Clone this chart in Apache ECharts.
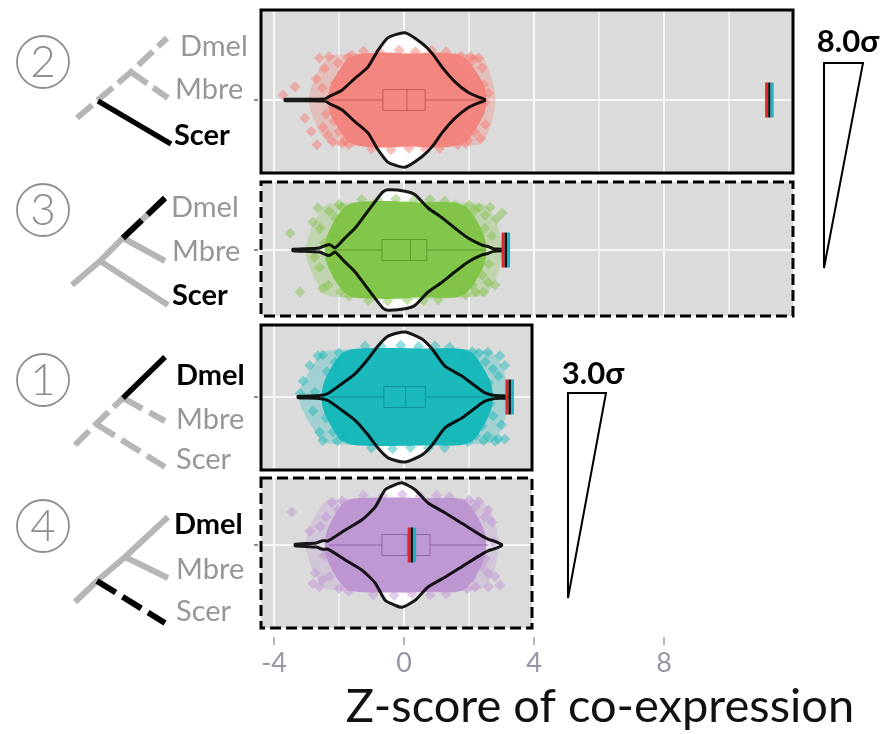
<!DOCTYPE html>
<html>
<head>
<meta charset="utf-8">
<script src="https://cdn.jsdelivr.net/npm/echarts@6/dist/echarts.min.js"></script>
<style>
  html, body { margin: 0; padding: 0; background: #fff; }
  #chart { width: 885px; height: 734px; }
</style>
</head>
<body>
<div id="chart"></div>
<script>
// ---- Z-score axis ----
const axisTicks = [-4, 0, 4, 8];
const gridValues = [-4, -2, 0, 2, 4, 6, 8, 10];
const axisTitle = 'Z-score of co-expression';

// ---- Panel 2 (Scer branch) ----
const violin2X = [-3.66, -2.43, -2.3, -1.91, -1.51, -1.11, -0.80, -0.49, 0.03, 0.55, 0.86, 1.17, 1.57, 1.97, 2.3, 2.48];
const violin2W = [0.01, 0.015, 0.05, 0.14, 0.31, 0.47, 0.71, 0.89, 0.96, 0.81, 0.67, 0.47, 0.26, 0.11, 0.04, 0.01];
const cloud2X = [-2.3, -2.0, -1.7, -1.3, -0.6, 0.2, 0.9, 1.5, 1.9, 2.2, 2.5];
const cloud2W = [0.15, 0.42, 0.6, 0.66, 0.68, 0.66, 0.68, 0.66, 0.6, 0.42, 0.15];
const halo2X = [-2.9, -2.6, -2.2, 2.3, 2.6, 2.8];
const halo2W = [0.1, 0.45, 0.64, 0.64, 0.45, 0.1];
const points2 = [[-3.72,0.07],[-3.35,0.19],[-3.05,-0.26],[-2.68,-0.64],[-2.49,-0.39],[-2.34,-0.5],[-2.03,0.53],[-1.88,0.4],[-2.12,0.24],[-2.52,0.17],[-2.06,-0.14],[-1.82,-0.57],[-1.72,0.61],
  [-2.6,0.6],[-2.45,0.45],[-2.3,0.62],[-2.2,-0.6],[-2.0,-0.45],[-2.4,-0.2],[-2.25,0.05],[-1.95,0.1],[-2.15,-0.3],[-1.9,-0.62],[-2.7,0.3],[-2.85,-0.45],[-1.7,-0.64],[-1.6,0.64],
  [2.12,0.57],[1.97,0.4],[2.4,0.46],[1.57,0.6],[1.48,0.53],[2.18,-0.46],[1.97,-0.57],[1.66,-0.64],[1.35,-0.47],[2.49,-0.04],[1.82,0.24],[1.78,-0.29],
  [2.3,0.6],[2.05,0.62],[2.45,0.22],[2.3,-0.15],[2.05,-0.3],[2.35,-0.55],[2.5,-0.35],[1.9,-0.62],[2.2,0.15],[1.75,0.63],[2.6,0.1],[1.65,-0.5],
  [-1.25,0.7],[-0.75,0.69],[-0.15,0.71],[0.35,0.69],[0.85,0.71],[1.3,0.69],[-1.0,-0.7],[-0.4,-0.71],[0.15,-0.69],[0.65,-0.7],[1.1,-0.69]];
const box2 = [-2.43, -0.65, 0.09, 0.65, 2.45];
const observed2 = 11.25;

// ---- Panel 3 (Dmel + Mbre ancestor) ----
const violin3X = [-3.42, -2.6, -2.3, -2.12, -1.82, -1.51, -1.2, -0.89, -0.65, -0.49, 0.03, 0.34, 0.74, 1.17, 1.57, 1.97, 2.4, 2.58, 2.75, 3.0];
const violin3W = [0.01, 0.03, 0.08, 0.03, 0.17, 0.31, 0.5, 0.69, 0.83, 0.86, 0.84, 0.79, 0.6, 0.46, 0.31, 0.17, 0.07, 0.05, 0.02, 0.01];
const cloud3X = [-2.4, -2.1, -1.8, -1.5, -0.5, 0.4, 1.5, 1.9, 2.2, 2.5];
const cloud3W = [0.15, 0.45, 0.62, 0.68, 0.7, 0.68, 0.68, 0.62, 0.45, 0.15];
const halo3X = [-3.0, -2.7, -2.3, 2.4, 2.8, 3.0];
const halo3W = [0.1, 0.45, 0.66, 0.66, 0.45, 0.1];
const points3 = [[-3.5,0.24],[-3.2,-0.6],[-2.65,0.6],[-2.58,0.31],[-2.12,0.46],[-2.03,-0.36],[-2.34,-0.5],[-1.82,-0.21],[-1.91,0.61],
  [-2.8,0.4],[-2.5,-0.55],[-2.3,0.55],[-2.2,0.2],[-2.6,-0.25],[-2.45,0.1],[-2.0,0.65],[-1.95,-0.6],[-2.75,-0.1],[-2.2,-0.2],[-1.7,-0.66],
  [3.02,0.53],[2.65,0.61],[2.49,0.31],[2.18,0.57],[2.58,-0.46],[2.4,-0.36],[2.09,-0.5],[1.97,0.4],[1.78,-0.6],[1.57,0.64],[1.26,-0.61],
  [2.3,0.6],[2.5,0.5],[2.7,0.2],[2.6,-0.2],[2.3,0.15],[2.2,-0.6],[2.45,-0.6],[2.8,-0.5],[1.9,-0.64],[2.0,0.64],[2.85,0.45],
  [-1.3,0.72],[-0.8,0.71],[-0.25,0.73],[0.3,0.71],[0.8,0.72],[1.25,0.7],[-1.1,-0.72],[-0.5,-0.73],[0.1,-0.71],[0.6,-0.72],[1.05,-0.71]];
const box3 = [-2.2, -0.68, 0.2, 0.7, 2.5];
const observed3 = 3.14;

// ---- Panel 1 (Dmel branch) ----
const violin1X = [-3.26, -2.6, -2.34, -1.91, -1.51, -1.11, -0.8, -0.49, 0.03, 0.55, 0.86, 1.26, 1.78, 2.18, 2.49, 2.8, 3.17];
const violin1W = [0.01, 0.02, 0.05, 0.19, 0.33, 0.54, 0.73, 0.87, 0.93, 0.83, 0.69, 0.44, 0.3, 0.16, 0.06, 0.02, 0.015];
const cloud1X = [-2.5, -2.2, -1.9, -1.5, -0.4, 0.6, 1.7, 2.1, 2.4, 2.7];
const cloud1W = [0.15, 0.45, 0.63, 0.69, 0.7, 0.69, 0.69, 0.63, 0.45, 0.15];
const halo1X = [-3.2, -2.8, -2.4, 2.6, 3.0, 3.2];
const halo1W = [0.1, 0.45, 0.66, 0.66, 0.45, 0.1];
const points1 = [[-3.1,0.23],[-2.65,0.59],[-2.37,0.36],[-2.74,0.07],[-2.18,-0.5],[-1.88,-0.57],[-2.12,0.5],
  [-2.9,0.45],[-2.5,0.6],[-2.4,-0.3],[-2.6,-0.5],[-2.3,0.15],[-2.0,0.63],[-2.05,-0.63],[-2.8,-0.2],[-3.2,0.05],[-2.5,-0.62],
  [2.95,0.59],[2.58,0.64],[2.74,0.4],[2.18,0.47],[2.74,-0.27],[2.58,-0.56],[3.1,-0.6],[2.8,-0.63],[2.4,-0.41],[1.78,0.59],[1.97,-0.64],
  [2.5,0.5],[2.9,0.3],[2.6,0.2],[3.0,-0.4],[2.9,-0.6],[2.45,-0.62],[2.3,0.63],[2.65,-0.1],[2.2,-0.55],[3.1,0.45],[2.1,0.65],
  [-1.2,0.73],[-0.7,0.72],[-0.1,0.74],[0.45,0.72],[0.95,0.73],[1.4,0.71],[-1.0,-0.73],[-0.35,-0.74],[0.2,-0.72],[0.75,-0.73],[1.25,-0.72]];
const box1 = [-2.3, -0.62, 0.05, 0.66, 2.5];
const observed1 = 3.26;

// ---- Panel 4 (Scer branch, Dmel-side) ----
const violin4X = [-3.35, -2.7, -2.5, -2.34, -1.82, -1.29, -0.89, -0.58, -0.28, -0.06, 0.34, 0.74, 1.26, 1.78, 2.4, 2.6, 2.75, 3.0];
const violin4W = [0.01, 0.03, 0.06, 0.06, 0.21, 0.36, 0.54, 0.79, 0.86, 0.89, 0.79, 0.6, 0.46, 0.31, 0.13, 0.08, 0.06, 0.01];
const cloud4X = [-2.4, -2.1, -1.8, -1.4, -0.3, 0.7, 1.6, 1.9, 2.2, 2.5];
const cloud4W = [0.15, 0.45, 0.62, 0.67, 0.68, 0.67, 0.67, 0.62, 0.45, 0.15];
const halo4X = [-3.0, -2.7, -2.3, 2.3, 2.7, 2.9];
const halo4W = [0.1, 0.45, 0.64, 0.64, 0.45, 0.1];
const points4 = [[-3.45,0.47],[-2.58,0.26],[-2.22,0.61],[-2.74,-0.4],[-2.52,-0.5],[-2.12,-0.26],[-1.82,-0.5],[-2.03,0.5],
  [-2.9,0.2],[-2.4,0.4],[-2.3,-0.45],[-2.6,-0.6],[-2.2,0.1],[-1.9,0.63],[-2.0,-0.62],[-2.8,-0.55],[-2.45,-0.15],[-1.7,-0.66],
  [2.49,0.4],[2.71,0.33],[2.18,0.54],[2.95,-0.57],[2.4,-0.31],[2.58,-0.4],[2.09,-0.46],[1.78,0.6],[1.57,-0.6],
  [2.3,0.62],[2.6,0.5],[2.8,-0.45],[2.2,-0.6],[2.5,-0.2],[2.3,0.2],[2.75,0.05],[1.95,-0.63],[2.0,0.64],[2.6,-0.6],
  [-1.25,0.71],[-0.65,0.7],[-0.05,0.72],[0.5,0.7],[1.0,0.71],[1.4,0.69],[-0.95,-0.71],[-0.3,-0.72],[0.25,-0.7],[0.8,-0.71],[1.3,-0.7]];
const box4 = [-2.3, -0.68, 0.1, 0.8, 2.6];
const observed4 = 0.25;

// ---- Annotation texts ----
const panelNumbers = ['2', '3', '1', '4'];
const speciesNames = ['Dmel', 'Mbre', 'Scer'];
const sigmaLabels = ['8.0σ', '3.0σ'];

// ---- Layout ----
const PANEL_LEFT = 261;
const X_AT_LEFT = -4.4;
const PX_PER_X = 32.5;
const PX_PER_Y = 70;
const GRAY = '#b6b6b6';
const TEXT_GRAY = '#979797';

const panels = [
  { num: panelNumbers[0], top: 10, bottom: 173, mid: 100, right: 793, dashed: false,
    color: '#F8766D', core: '#F3827B', edge: '#B04A44',
    vX: violin2X, vW: violin2W, cX: cloud2X, cW: cloud2W, hX: halo2X, hW: halo2W,
    points: points2, box: box2, observed: observed2 },
  { num: panelNumbers[1], top: 182, bottom: 316, mid: 250, right: 793, dashed: true,
    color: '#7CC242', core: '#7DC343', edge: '#4E8A22',
    vX: violin3X, vW: violin3W, cX: cloud3X, cW: cloud3W, hX: halo3X, hW: halo3W,
    points: points3, box: box3, observed: observed3 },
  { num: panelNumbers[2], top: 325, bottom: 470, mid: 397, right: 532, dashed: false,
    color: '#13B8BB', core: '#12B6B9', edge: '#0B7F82',
    vX: violin1X, vW: violin1W, cX: cloud1X, cW: cloud1W, hX: halo1X, hW: halo1W,
    points: points1, box: box1, observed: observed1 },
  { num: panelNumbers[3], top: 478, bottom: 628, mid: 545, right: 532, dashed: true,
    color: '#BC8ED4', core: '#BC94D1', edge: '#7E4E98',
    vX: violin4X, vW: violin4W, cX: cloud4X, cW: cloud4W, hX: halo4X, hW: halo4W,
    points: points4, box: box4, observed: observed4 }
];

// Phylogeny sketches beside each panel: trunk polylines and branches (pixel layout)
const trees = [
  { circle: [43, 62], labels: [[180, 47, 'g'], [175, 90, 'g'], [174, 136, 'b']],
    lines: [
      { pts: [[77,118],[98,100],[131,72],[167,38]], c: GRAY, w: 6, dash: [20, 7] },
      { pts: [[131,72],[168,98]], c: GRAY, w: 6, dash: [20, 7] },
      { pts: [[98,101],[171,144]], c: '#000', w: 5.5 }
    ] },
  { circle: [43, 210], labels: [[171, 208, 'g'], [172, 252, 'g'], [172, 296, 'b']],
    lines: [
      { pts: [[72,285],[100,261],[123,238],[165,198]], c: GRAY, w: 6 },
      { pts: [[100,261],[168,305]], c: GRAY, w: 6 },
      { pts: [[123,238],[165,261]], c: GRAY, w: 6 },
      { pts: [[123,238],[165,198]], c: '#000', w: 6, dash: [26, 8] }
    ] },
  { circle: [43, 380], labels: [[176, 376, 'b'], [176, 420, 'g'], [176, 460, 'g']],
    lines: [
      { pts: [[75,445],[96,424],[123,398]], c: GRAY, w: 6, dash: [20, 7] },
      { pts: [[96,424],[165,467]], c: GRAY, w: 6, dash: [22, 8] },
      { pts: [[123,398],[165,421]], c: GRAY, w: 6, dash: [22, 8] },
      { pts: [[123,398],[165,357]], c: '#000', w: 5.5 }
    ] },
  { circle: [43, 526], labels: [[174, 525, 'b'], [176, 570, 'g'], [176, 612, 'g']],
    lines: [
      { pts: [[75,602],[97,581],[125,557],[168,517]], c: GRAY, w: 6 },
      { pts: [[125,557],[168,578]], c: GRAY, w: 6 },
      { pts: [[97,581],[165,623]], c: '#000', w: 6, dash: [22, 8] }
    ] }
];

// Sigma wedges to the right of the panels
const wedges = [
  { text: sigmaLabels[0], textPos: [848, 42], pts: [[824,63],[863,63],[824,268]] },
  { text: sigmaLabels[1], textPos: [593, 374], pts: [[568,393],[606,393],[568,598]] }
];

// ---- Build chart option ----
const grids = [], xAxes = [], yAxes = [], series = [];

function bandPolygon(xs, ws, api) {
  const pts = [];
  for (let i = 0; i < xs.length; i++) pts.push(api.coord([xs[i], ws[i]]));
  for (let i = xs.length - 1; i >= 0; i--) pts.push(api.coord([xs[i], -ws[i]]));
  return pts;
}

panels.forEach((p, i) => {
  const xMin = X_AT_LEFT;
  const xMax = X_AT_LEFT + (p.right - PANEL_LEFT) / PX_PER_X;
  const yMax = (p.mid - p.top) / PX_PER_Y;
  const yMin = -(p.bottom - p.mid) / PX_PER_Y;

  grids.push({ left: PANEL_LEFT, top: p.top, width: p.right - PANEL_LEFT, height: p.bottom - p.top,
    show: true, backgroundColor: '#DBDBDB', borderWidth: 0 });
  xAxes.push({ gridIndex: i, type: 'value', min: xMin, max: xMax, show: false });
  yAxes.push({ gridIndex: i, type: 'value', min: yMin, max: yMax, show: false });

  const base = { type: 'custom', xAxisIndex: i, yAxisIndex: i, silent: true };

  // white vertical gridlines
  series.push(Object.assign({}, base, {
    z: 1,
    data: gridValues.filter(v => v > xMin && v < xMax).map(v => [v, 0]),
    renderItem: (params, api) => {
      const v = api.value(0);
      const a = api.coord([v, yMax]), b = api.coord([v, yMin]);
      const major = (v % 4 === 0);
      return { type: 'line', shape: { x1: a[0], y1: a[1], x2: b[0], y2: b[1] },
        style: { stroke: '#ffffff', lineWidth: major ? 1.6 : 1.1 } };
    }
  }));
  // horizontal centre line
  series.push(Object.assign({}, base, {
    z: 1, data: [[0, 0]],
    renderItem: (params, api) => {
      const a = api.coord([xMin, 0]), b = api.coord([xMax, 0]);
      return { type: 'line', shape: { x1: a[0], y1: a[1], x2: b[0], y2: b[1] },
        style: { stroke: '#ffffff', lineWidth: 1.6 } };
    }
  }));
  // y tick left of the panel
  series.push(Object.assign({}, base, {
    z: 9, clip: false, data: [[0, 0]],
    renderItem: (params, api) => {
      const a = api.coord([xMin, 0]);
      return { type: 'line', shape: { x1: a[0] - 7, y1: a[1], x2: a[0] - 3, y2: a[1] },
        style: { stroke: '#666', lineWidth: 1.5 } };
    }
  }));
  // violin body (white)
  series.push(Object.assign({}, base, {
    z: 2, data: [[0, 0]],
    renderItem: (params, api) => ({ type: 'polygon',
      shape: { points: bandPolygon(p.vX, p.vW, api), smooth: 0.2 },
      style: { fill: '#ffffff', stroke: 'none' } })
  }));
  // sparse outer jitter haze
  series.push(Object.assign({}, base, {
    z: 3, data: [[0, 0]],
    renderItem: (params, api) => ({ type: 'polygon',
      shape: { points: bandPolygon(p.hX, p.hW, api), smooth: 0.3 },
      style: { fill: p.color, opacity: 0.28 } })
  }));
  // individual jittered diamonds
  series.push({
    type: 'scatter', xAxisIndex: i, yAxisIndex: i, silent: true, z: 4,
    symbol: 'diamond', symbolSize: 11,
    itemStyle: { color: p.color, opacity: 0.45 },
    data: p.points
  });
  // dense jitter core
  series.push(Object.assign({}, base, {
    z: 5, data: [[0, 0]],
    renderItem: (params, api) => ({ type: 'polygon',
      shape: { points: bandPolygon(p.cX, p.cW, api), smooth: 0.3 },
      style: { fill: p.core, opacity: 0.95 } })
  }));
  // violin outline
  series.push(Object.assign({}, base, {
    z: 6, data: [[0, 0]],
    renderItem: (params, api) => ({ type: 'polygon',
      shape: { points: bandPolygon(p.vX, p.vW, api), smooth: 0.2 },
      style: { fill: 'none', stroke: '#000', lineWidth: 3, opacity: 0.9, lineJoin: 'round' } })
  }));
  // boxplot
  series.push(Object.assign({}, base, {
    z: 7, data: [[0, 0]],
    renderItem: (params, api) => {
      const [lo, q1, med, q3, hi] = p.box;
      const h = 0.15;
      const a = api.coord([q1, h]), b = api.coord([q3, -h]);
      const wl = api.coord([lo, 0]), wq1 = api.coord([q1, 0]), wq3 = api.coord([q3, 0]), wh = api.coord([hi, 0]);
      const mt = api.coord([med, h]), mb = api.coord([med, -h]);
      const st = { stroke: p.edge, lineWidth: 1, opacity: 0.7, fill: 'none' };
      return { type: 'group', children: [
        { type: 'line', shape: { x1: wl[0], y1: wl[1], x2: wq1[0], y2: wq1[1] }, style: st },
        { type: 'line', shape: { x1: wq3[0], y1: wq3[1], x2: wh[0], y2: wh[1] }, style: st },
        { type: 'rect', shape: { x: a[0], y: a[1], width: b[0] - a[0], height: b[1] - a[1] }, style: st },
        { type: 'line', shape: { x1: mt[0], y1: mt[1], x2: mb[0], y2: mb[1] }, style: st }
      ] };
    }
  }));
  // observed z-score marker
  series.push(Object.assign({}, base, {
    z: 8, data: [[p.observed, 0]],
    renderItem: (params, api) => {
      const t = api.coord([api.value(0), 0.25]), b = api.coord([api.value(0), -0.25]);
      const x = t[0], hgt = b[1] - t[1];
      return { type: 'group', children: [
        { type: 'rect', shape: { x: x - 4.5, y: t[1], width: 3, height: hgt }, style: { fill: '#E3262E' } },
        { type: 'rect', shape: { x: x - 1.5, y: t[1], width: 2.5, height: hgt }, style: { fill: '#151515' } },
        { type: 'rect', shape: { x: x + 1, y: t[1], width: 3, height: hgt }, style: { fill: '#19B2C6' } }
      ] };
    }
  }));
});

// shared bottom axis with tick labels
const AX = grids.length;
grids.push({ left: PANEL_LEFT + (axisTicks[0] - X_AT_LEFT) * PX_PER_X, top: 636,
  width: (axisTicks[axisTicks.length - 1] - axisTicks[0]) * PX_PER_X, height: 1 });
xAxes.push({ gridIndex: AX, type: 'value', position: 'bottom',
  min: axisTicks[0], max: axisTicks[axisTicks.length - 1], interval: 4,
  axisLine: { show: false }, splitLine: { show: false },
  axisTick: { show: true, length: 8, lineStyle: { color: '#9a9aa6', width: 1.5 } },
  axisLabel: { show: true, margin: 13, fontSize: 27, fontFamily: 'Lato', color: '#9a96a6' } });
yAxes.push({ gridIndex: AX, type: 'value', show: false, min: 0, max: 1 });

// ---- graphic decorations ----
const elements = [];
panels.forEach(p => {
  elements.push({ type: 'rect', z: 100, silent: true,
    shape: { x: PANEL_LEFT, y: p.top, width: p.right - PANEL_LEFT, height: p.bottom - p.top },
    style: { fill: 'none', stroke: '#000', lineWidth: 3, lineDash: p.dashed ? [11, 5] : null } });
});
trees.forEach((t, i) => {
  elements.push({ type: 'circle', silent: true, shape: { cx: t.circle[0], cy: t.circle[1], r: 26 },
    style: { fill: 'none', stroke: '#8e8e8e', lineWidth: 1.8 } });
  elements.push({ type: 'text', silent: true, x: t.circle[0], y: t.circle[1] + 1,
    style: { text: panels[i].num, font: '300 44px Lato', fill: '#8e8e8e', align: 'center', verticalAlign: 'middle' } });
  t.lines.forEach(l => {
    elements.push({ type: 'polyline', silent: true, shape: { points: l.pts },
      style: { stroke: l.c, lineWidth: l.w, lineDash: l.dash || null, lineCap: 'butt', lineJoin: 'miter', fill: 'none' } });
  });
  t.labels.forEach((lb, k) => {
    const bold = lb[2] === 'b';
    elements.push({ type: 'text', silent: true, x: lb[0], y: lb[1],
      style: { text: speciesNames[k], font: (bold ? 'bold ' : '') + '29px Lato',
        fill: bold ? '#000' : TEXT_GRAY, align: 'left', verticalAlign: 'middle' } });
  });
});
wedges.forEach(w => {
  elements.push({ type: 'polygon', silent: true, shape: { points: w.pts },
    style: { fill: '#fff', stroke: '#000', lineWidth: 2 } });
  elements.push({ type: 'text', silent: true, x: w.textPos[0], y: w.textPos[1],
    style: { text: w.text, font: 'bold 31px Lato', fill: '#000', align: 'center', verticalAlign: 'middle' } });
});
elements.push({ type: 'text', silent: true, x: 600, y: 707,
  style: { text: axisTitle, font: '47px Lato', fill: '#111', align: 'center', verticalAlign: 'middle' } });

const chart = echarts.init(document.getElementById('chart'), null, { renderer: 'canvas' });
chart.setOption({
  animation: false,
  textStyle: { fontFamily: 'Lato' },
  grid: grids,
  xAxis: xAxes,
  yAxis: yAxes,
  series: series,
  graphic: { elements: elements }
});
</script>
</body>
</html>
